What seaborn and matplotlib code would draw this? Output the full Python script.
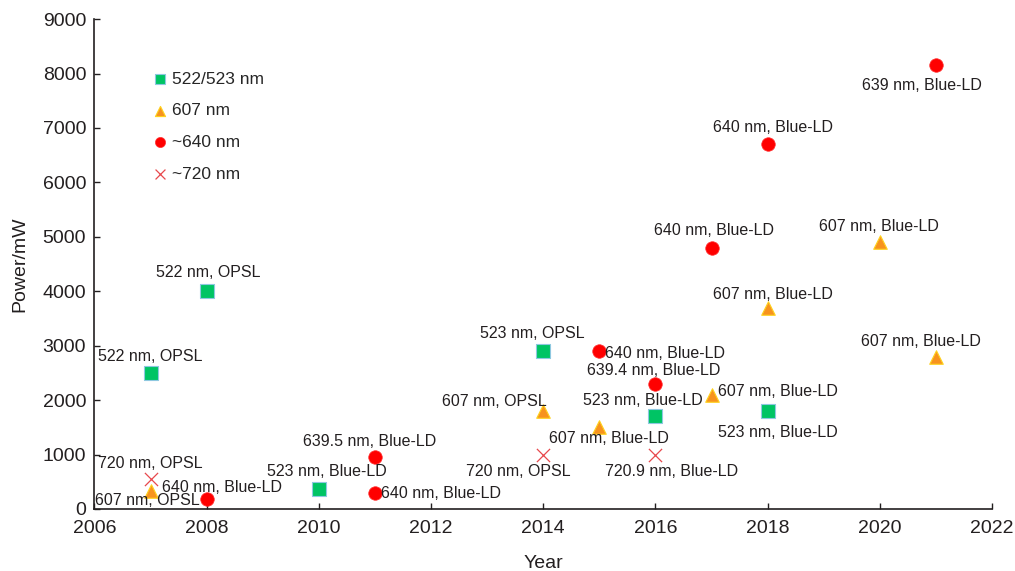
import matplotlib
matplotlib.use("Agg")
import matplotlib.pyplot as plt
import seaborn as sns
import pandas as pd

sns.set_theme(style="ticks")
plt.rcParams['font.family'] = ['Liberation Sans', 'DejaVu Sans']

# ---- data ----
sq_year = [2007, 2008, 2010, 2014, 2016, 2018]
sq_power = [2500, 4000, 370, 2900, 1700, 1800]
sq_label = ["522 nm, OPSL", "522 nm, OPSL", "523 nm, Blue-LD", "523 nm, OPSL",
            "523 nm, Blue-LD", "523 nm, Blue-LD"]

tri_year = [2007, 2014, 2015, 2017, 2018, 2020, 2021]
tri_power = [330, 1800, 1500, 2100, 3700, 4900, 2800]
tri_label = ["607 nm, OPSL", "607 nm, OPSL", "607 nm, Blue-LD", "607 nm, Blue-LD",
             "607 nm, Blue-LD", "607 nm, Blue-LD", "607 nm, Blue-LD"]

cir_year = [2008, 2011, 2011, 2015, 2016, 2017, 2018, 2021]
cir_power = [180, 950, 300, 2900, 2300, 4800, 6700, 8150]
cir_label = ["640 nm, Blue-LD", "639.5 nm, Blue-LD", "640 nm, Blue-LD", "640 nm, Blue-LD",
             "639.4 nm, Blue-LD", "640 nm, Blue-LD", "640 nm, Blue-LD", "639 nm, Blue-LD"]

x_year = [2007, 2014, 2016]
x_power = [550, 1000, 1000]
x_label = ["720 nm, OPSL", "720 nm, OPSL", "720.9 nm, Blue-LD"]

groups = ["522/523 nm", "607 nm", "~640 nm", "~720 nm"]

# label offsets in pixels (dx, dy, ha) -- styling only
sq_off = [(0, 16, 'center'), (2, 19, 'center'), (8, 17, 'center'), (-11, 18, 'center'),
          (-13, 16, 'center'), (10, -21, 'center')]
tri_off = [(-3, -9, 'center'), (-49, 10, 'center'), (10, -11, 'center'), (6, 3, 'left'),
           (5, 13, 'center'), (-1, 16, 'center'), (-15, 15, 'center')]
cir_off = [(15, 12, 'center'), (-5, 16, 'center'), (6, -1, 'left'), (6, -2, 'left'),
           (-2, 13, 'center'), (2, 17, 'center'), (5, 17, 'center'), (-14, -20, 'center')]
x_off = [(0, 16, 'center'), (-25, -17, 'center'), (16, -17, 'center')]

df = pd.concat([
    pd.DataFrame({"Year": sq_year, "Power": sq_power, "Type": groups[0]}),
    pd.DataFrame({"Year": tri_year, "Power": tri_power, "Type": groups[1]}),
    pd.DataFrame({"Year": cir_year, "Power": cir_power, "Type": groups[2]}),
    pd.DataFrame({"Year": x_year, "Power": x_power, "Type": groups[3]}),
], ignore_index=True)

fig = plt.figure(figsize=(10.15, 5.71), dpi=100)
ax = fig.add_axes([0.0931, 0.1086, 0.8842, 0.858])

styles = {
    groups[0]: dict(marker='s', color='#00C464', edgecolor='#8EC8E0', s=95, linewidth=0.8),
    groups[1]: dict(marker='^', color='#F7931E', edgecolor='#FFD21E', s=95, linewidth=0.8),
    groups[2]: dict(marker='o', color='#FF0000', edgecolor='#FF3030', s=95, linewidth=0.5),
    groups[3]: dict(marker='x', color='#E8484C', s=90, linewidth=0.9),
}
for g in groups:
    sub = df[df["Type"] == g]
    st = styles[g]
    sns.scatterplot(data=sub, x="Year", y="Power", ax=ax, marker=st['marker'],
                    color=st['color'], edgecolor=st.get('edgecolor', 'face'),
                    s=st['s'], linewidth=st['linewidth'], label=g, zorder=3)

for xs, ys, labs, offs in [(sq_year, sq_power, sq_label, sq_off),
                           (tri_year, tri_power, tri_label, tri_off),
                           (cir_year, cir_power, cir_label, cir_off),
                           (x_year, x_power, x_label, x_off)]:
    for xv, yv, lab, (dx, dy, ha) in zip(xs, ys, labs, offs):
        ax.annotate(lab, (xv, yv), xytext=(dx, dy), textcoords='offset pixels',
                    ha=ha, va='center', fontsize=11.5, color='#231F20')

ax.set_xlim(2006, 2022)
ax.set_ylim(0, 9000)
ax.set_xticks(range(2006, 2023, 2))
ax.set_yticks(range(0, 9001, 1000))
ax.tick_params(direction='in', labelsize=14, length=4, width=1, colors='#231F20')
ax.tick_params(axis='x', pad=8)
ax.tick_params(axis='y', pad=6)
ax.set_xlabel("Year", fontsize=14, color='#231F20', labelpad=13)
ax.set_ylabel("Power/mW", fontsize=14, color='#231F20', labelpad=10)
sns.despine(ax=ax)
for sp in ['left', 'bottom']:
    ax.spines[sp].set_color('#231F20')
    ax.spines[sp].set_linewidth(1.2)

leg = ax.legend(loc='upper left', bbox_to_anchor=(0.046, 0.925), frameon=False,
                fontsize=12.5, handletextpad=0.2, labelspacing=0.95, handlelength=1.0,
                markerscale=0.75)

fig.savefig("out.png", dpi=100)
